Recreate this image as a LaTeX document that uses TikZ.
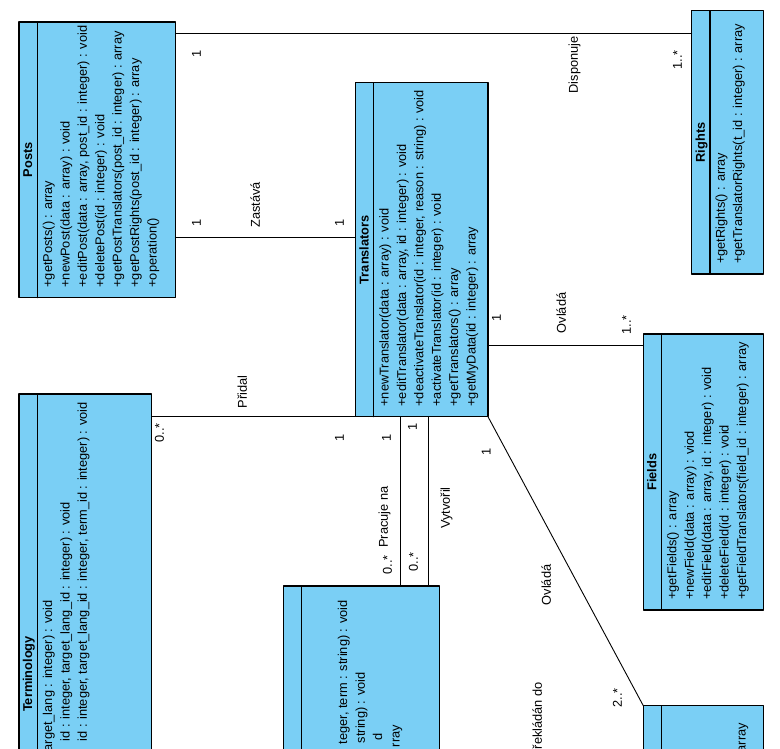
\documentclass[tikz,border=0pt]{standalone}
\usepackage{fontspec}
\setmainfont{Liberation Sans}
\usepackage{tikz}
\usetikzlibrary{calc}
\definecolor{umlblue}{rgb}{0.48,0.81,0.96}
\newcommand{\umlfont}{\fontsize{12.8}{15}\selectfont}
\tikzstyle{every node}=[font=\umlfont, inner sep=0pt]
\tikzstyle{classbox}=[draw=black, line width=1.1pt, fill=umlblue, outer sep=0pt]
\tikzstyle{classname}=[rotate=90, anchor=mid, font=\umlfont\bfseries]
\tikzstyle{oper}=[rotate=90, anchor=base west]
\tikzstyle{cutoper}=[rotate=90, anchor=base east]
\tikzstyle{mult}=[rotate=90, anchor=mid]
\tikzstyle{assoc}=[line width=0.9pt]

\begin{document}
\begin{tikzpicture}[line cap=round,line join=round,x=1pt,y=-1pt]
\useasboundingbox (0,0) rectangle (780,748);
\fill[white] (0,0) rectangle (780,748);
\clip (0,0) rectangle (780,748);
% classes
\node[classbox, minimum width=156.7pt, minimum height=275.7pt] (posts) at (97.35,159.85) {};
\node[classbox, minimum width=132.5pt, minimum height=334pt] (translators) at (421.75,249.7) {};
\node[classbox, minimum width=71.6pt, minimum height=263.3pt] (rights) at (727.5,142.35) {};
\node[classbox, minimum width=120pt, minimum height=276pt] (fields) at (703.3,472) {};
\node[classbox, minimum width=132.7pt, minimum height=560pt] (terminology) at (85.35,674) {};
\node[classbox, minimum width=156pt, minimum height=320pt] (terms) at (361.3,746) {};
\node[classbox, minimum width=120pt, minimum height=200pt] (languages) at (703.3,805.7) {};
\foreach \c in {posts,translators,rights,fields,terminology,terms,languages}
  \draw[line width=1.1pt] ([xshift=18.3pt]\c.north west) -- ([xshift=18.3pt]\c.south west);
% class names
\node[classname] (posts-name) at ([xshift=10.5pt]posts.west) {Posts};
\node[classname] (translators-name) at ([xshift=10.5pt]translators.west) {Translators};
\node[classname] (rights-name) at ([xshift=10.5pt]rights.west) {Rights};
\node[classname] (fields-name) at ([xshift=10.5pt]fields.west) {Fields};
\node[classname] (terminology-name) at ([xshift=10.5pt]terminology.west) {Terminology};
% operations
\foreach \op [count=\i from 0] in {{+getPosts() : array},{+newPost(data : array) : void},{+editPost(data : array, post\_id : integer) : void},{+deletePost(id : integer) : void},{+getPostTranslators(post\_id : integer) : array},{+getPostRights(post\_id : integer) : array},{+operation()}}
  \node[oper] (posts-op\i) at ([xshift=33.1pt+17.4pt*\i, yshift=10pt]posts.south west) {\op};
\foreach \op [count=\i from 0] in {{+newTranslator(data : array) : void},{+editTranslator(data : array, id : integer) : void},{+deactivateTranslator(id : integer, reason : string) : void},{+activateTranslator(id : integer) : void},{+getTranslators() : array},{+getMyData(id : integer) : array}}
  \node[oper] (translators-op\i) at ([xshift=33.1pt+17.4pt*\i, yshift=10pt]translators.south west) {\op};
\foreach \op [count=\i from 0] in {{+getRights() : array},{+getTranslatorRights(t\_id : integer) : array}}
  \node[oper] (rights-op\i) at ([xshift=33.1pt+17.4pt*\i, yshift=10pt]rights.south west) {\op};
\foreach \op [count=\i from 0] in {{+getFields() : array},{+newField(data : array) : viod},{+editField(data : array, id : integer) : void},{+deleteField(id : integer) : void},{+getFieldTranslators(field\_id : integer) : array}}
  \node[oper] (fields-op\i) at ([xshift=33.1pt+17.4pt*\i, yshift=10pt]fields.south west) {\op};
\foreach \op/\yend [count=\i from 0] in {{arget\_lang : integer) : void}/600,{id : integer, target\_lang\_id : integer) : void}/502,{id : integer, target\_lang\_id : integer, term\_id : integer) : void}/402}
  \node[cutoper] (terminology-op\i) at (52.1+17.4*\i,\yend) {\op};
\node[cutoper] (terms-op0) at (347,600) {teger, term : string) : void};
\node[cutoper] (terms-op1) at (364.8,672) {string) : void};
\node[cutoper] (terms-op2) at (382.2,733) {d};
\node[cutoper] (terms-op3) at (399.6,725) {rray};
\node[cutoper] (languages-op0) at (745.5,723) {array};
% associations
\draw[assoc] (posts.east |- 0,33.3) -- (rights.west |- 0,33.3);
\draw[assoc] (posts.east |- 0,237.7) -- (translators.west |- 0,237.7);
\draw[assoc] (translators.east |- 0,345.3) -- (fields.west |- 0,345.3);
\draw[assoc] (terminology.east |- translators.south west) -- (translators.south west);
\draw[assoc] (translators.south -| 400.7,0) -- (terms.north -| 400.7,0);
\draw[assoc] (translators.south -| 428.3,0) -- (terms.north -| 428.3,0);
\draw[assoc] (translators.south east) -- (languages.north west);
% labels
\node[mult] (m1) at (198.3,54) {1};
\node[mult] (disponuje) at (575.3,65) {Disponuje};
\node[mult] (m2) at (679.3,60) {1..*};
\node[mult] (m3) at (198.3,223) {1};
\node[mult] (zastava) at (257.3,205) {Zastává};
\node[mult] (m4) at (341.3,223) {1};
\node[mult] (m5) at (498.3,318) {1};
\node[mult] (ovlada1) at (563.3,313) {Ovládá};
\node[mult] (m6) at (628.3,325) {1..*};
\node[mult] (m7) at (161.3,433) {0..*};
\node[mult] (pridal) at (244.3,392) {Přidal};
\node[mult] (m8) at (341.3,438) {1};
\node[mult] (m9) at (388.3,438) {1};
\node[mult] (pracuje) at (385.3,517) {Pracuje na};
\node[mult] (m10) at (389.3,565) {0..*};
\node[mult] (m11) at (414.3,427) {1};
\node[mult] (vytvoril) at (447.3,508) {Vytvořil};
\node[mult] (m12) at (415.3,562) {0..*};
\node[mult] (m13) at (488,452) {1};
\node[mult] (ovlada2) at (548.3,585) {Ovládá};
\node[mult] (m14) at (619.3,698) {2..*};
\node[cutoper] (preklada) at (541.8,682) {řekládán do};
\end{tikzpicture}
\end{document}
